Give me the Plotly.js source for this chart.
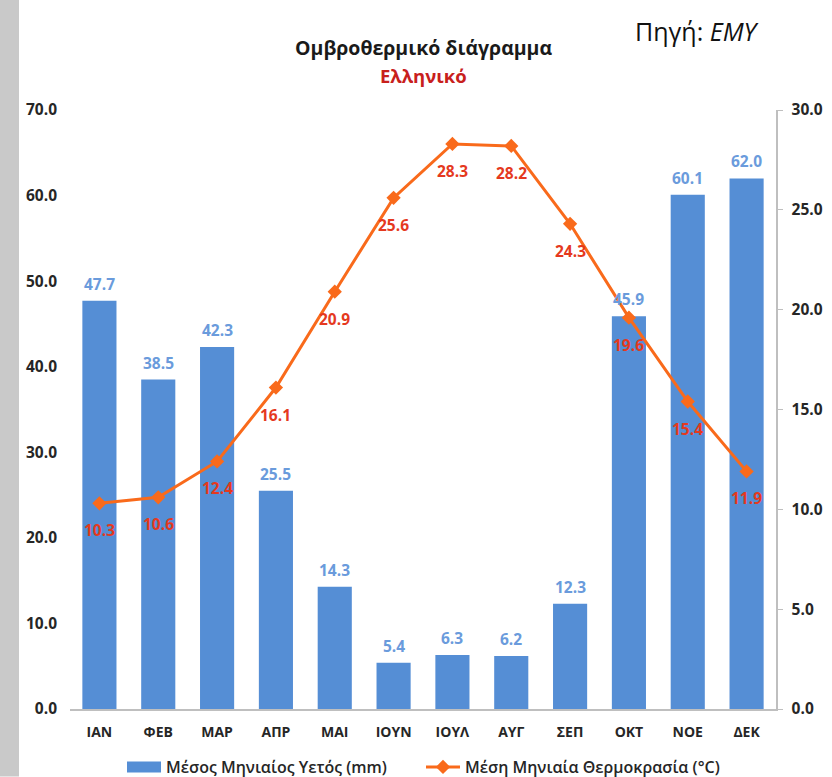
<!DOCTYPE html>
<html><head><meta charset="utf-8">
<script src="https://cdn.plot.ly/plotly-3.0.1.min.js"></script>
<style>html,body{margin:0;padding:0;background:#fff}</style></head>
<body><div id="chart" style="width:832px;height:777px"></div>
<script>
const months = ['ΙΑΝ','ΦΕΒ','ΜΑΡ','ΑΠΡ','ΜΑΙ','ΙΟΥΝ','ΙΟΥΛ','ΑΥΓ','ΣΕΠ','ΟΚΤ','ΝΟΕ','ΔΕΚ'];
const rainfall = [47.7,38.5,42.3,25.5,14.3,5.4,6.3,6.2,12.3,45.9,60.1,62.0];
const temperature = [10.3,10.6,12.4,16.1,20.9,25.6,28.3,28.2,24.3,19.6,15.4,11.9];
const rainName = 'Μέσος Μηνιαίος Υετός (mm)';
const tempName = 'Μέση Μηνιαία Θερμοκρασία (°C)';
const F = 'Open Sans, sans-serif';
const W=832,H=777,L=70,R=776,T=110,B=709.5;
const pw=R-L,ph=B-T;

const traces = [
 {type:'bar',name:rainName,x:months,y:rainfall,yaxis:'y',width:0.58,
  marker:{color:'#558ed5'},hoverinfo:'skip'},
 {type:'scatter',mode:'lines+markers',name:tempName,x:months,y:temperature,yaxis:'y2',
  line:{color:'#f96a1b',width:3},
  marker:{symbol:'diamond',size:11,color:'#f96a1b'},hoverinfo:'skip'}
];
const annotations = [];
months.forEach((m,i)=>{
  annotations.push({x:m,y:rainfall[i],xref:'x',yref:'y',text:rainfall[i].toFixed(1),showarrow:false,
    yshift:17,font:{family:F,size:15.5,color:'#6a9bdc',weight:700}});
});
months.forEach((m,i)=>{
  annotations.push({x:m,y:temperature[i],xref:'x',yref:'y2',text:temperature[i].toFixed(1),showarrow:false,
    yshift:-27,font:{family:F,size:15.5,color:'#e5391e',weight:700}});
});
const note=(cx,cy,text,size,color)=>({xref:'paper',yref:'paper',xanchor:'center',yanchor:'middle',showarrow:false,
  x:(cx-L)/pw,y:(B-cy)/ph,text,font:{family:F,size,color}});
annotations.push(
 note(423,47,'<b>Ομβροθερμικό διάγραμμα</b>',19.5,'#1a1a1a'),
 note(423,75,'<b>Ελληνικό</b>',18.5,'#c8201c'),
 note(697,31,'Πηγή: <i>ΕΜΥ</i>',25,'#111')
);
const layout = {
 width:W,height:H,paper_bgcolor:'#fff',plot_bgcolor:'#fff',showlegend:true,
 margin:{l:L,r:W-R,t:T,b:H-B,pad:0},
 font:{family:F,color:'#262626'},
 xaxis:{type:'category',range:[-0.5,11.5],tickmode:'array',tickvals:months,ticktext:months,
   showline:true,linecolor:'#bfbfbf',linewidth:1.5,ticks:'',showgrid:false,zeroline:false,
   ticklabelstandoff:10,
   tickfont:{family:F,size:14,color:'#262626',weight:700},automargin:false},
 yaxis:{range:[0,70],dtick:10,tickformat:'.1f',showgrid:false,zeroline:false,showline:false,ticks:'',
   ticklabelstandoff:12,
   tickfont:{family:F,size:15.5,color:'#262626',weight:700},automargin:false},
 yaxis2:{range:[0,30],dtick:5,tickformat:'.1f',overlaying:'y',side:'right',showgrid:false,zeroline:false,
   showline:true,linecolor:'#bfbfbf',linewidth:1.5,ticks:'outside',ticklen:5,tickcolor:'#bfbfbf',
   ticklabelstandoff:6,
   tickfont:{family:F,size:15.5,color:'#262626',weight:700},automargin:false},
 legend:{orientation:'h',xref:'container',yref:'container',x:122/W,xanchor:'left',y:1-767/H,yanchor:'middle',
   font:{family:F,size:16,color:'#262626',weight:600},itemwidth:34,entrywidth:250,entrywidthmode:'pixels',
   bgcolor:'rgba(0,0,0,0)'},
 shapes:[{type:'rect',xref:'paper',yref:'paper',layer:'below',
   x0:-L/pw,x1:(19-L)/pw,y0:(B-H)/ph,y1:B/ph,
   fillcolor:'#c9c9c9',line:{width:0}}],
 annotations
};
const gd=document.getElementById('chart');
const widenSwatch=()=>{
  document.querySelectorAll('#chart .legend path.legendundefined').forEach(p=>p.setAttribute('d','M-17,5.5H17V-5.5H-17Z'));
};
Plotly.newPlot(gd,traces,layout,{displayModeBar:false,staticPlot:true}).then(()=>{
  widenSwatch();
  gd.on('plotly_afterplot',widenSwatch);
  setTimeout(widenSwatch,50);
});
</script></body></html>
